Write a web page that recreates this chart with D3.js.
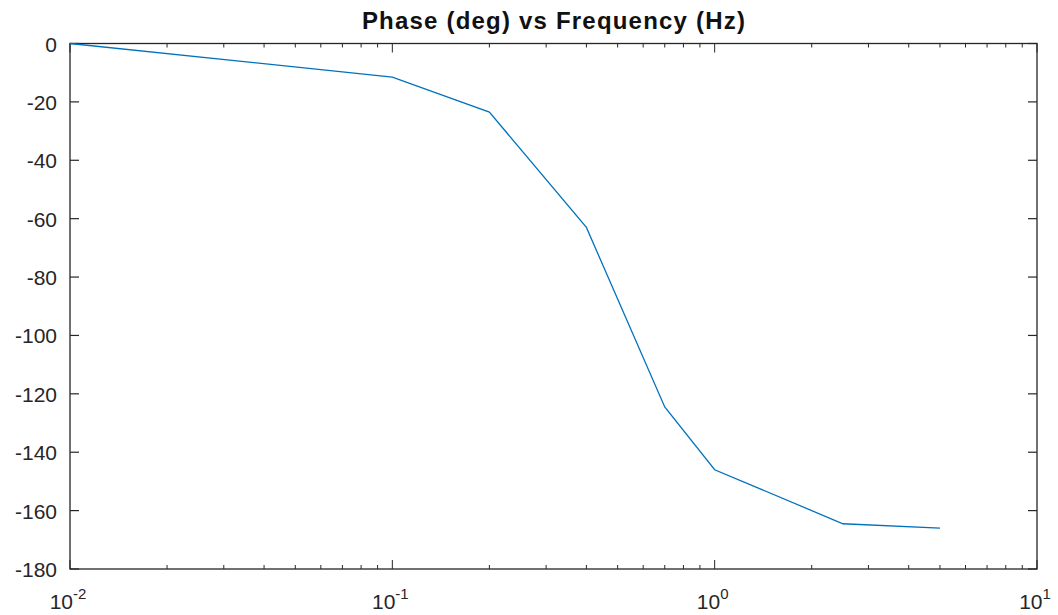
<!DOCTYPE html>
<html>
<head>
<meta charset="utf-8">
<script src="https://cdn.jsdelivr.net/npm/d3@7"></script>
<style>
  body { margin: 0; background: #fff; }
  text { font-family: "Liberation Sans", Arial, sans-serif; fill: #262626; }
</style>
</head>
<body>
<script>
var freq = [0.01, 0.1, 0.2, 0.4, 0.7, 1.0, 2.5, 5.0];
var phase = [0, -11.5, -23.5, -63, -124.5, -146, -164.5, -166];
var yTicks = [0, -20, -40, -60, -80, -100, -120, -140, -160, -180];
var xDecades = [-2, -1, 0, 1];
var title = 'Phase (deg) vs Frequency (Hz)';

var W = 1058, H = 615;
var m = {left: 70, top: 43.5, right: 1037, bottom: 569};

var svg = d3.select('body').append('svg').attr('width', W).attr('height', H);

var x = d3.scaleLog().domain([0.01, 10]).range([m.left, m.right]);
var y = d3.scaleLinear().domain([-180, 0]).range([m.bottom, m.top]);

// minor ticks 2..9 each decade
var minor = [];
for (var d = -2; d < 1; d++) {
    for (var k = 2; k <= 9; k++) minor.push(k * Math.pow(10, d));
}

var g = svg.append('g');

g.append('rect')
    .attr('x', m.left).attr('y', m.top)
    .attr('width', m.right - m.left).attr('height', m.bottom - m.top)
    .attr('fill', 'none').attr('stroke', '#262626').attr('stroke-width', 1.3);

function drawX(vals, len) {
    vals.forEach(function(v) {
        var px = x(v);
        g.append('line').attr('x1', px).attr('x2', px).attr('y1', m.bottom).attr('y2', m.bottom - len)
            .attr('stroke', '#262626').attr('stroke-width', 1);
        g.append('line').attr('x1', px).attr('x2', px).attr('y1', m.top).attr('y2', m.top + len)
            .attr('stroke', '#262626').attr('stroke-width', 1);
    });
}
drawX(minor, 4);
drawX(xDecades.map(function(d){ return Math.pow(10, d); }), 9);

yTicks.forEach(function(v) {
    var py = y(v);
    g.append('line').attr('x1', m.left).attr('x2', m.left + 9).attr('y1', py).attr('y2', py)
        .attr('stroke', '#262626').attr('stroke-width', 1.2);
    g.append('line').attr('x1', m.right).attr('x2', m.right - 9).attr('y1', py).attr('y2', py)
        .attr('stroke', '#262626').attr('stroke-width', 1.2);
    g.append('text').attr('x', m.left - 13).attr('y', py + 8)
        .attr('text-anchor', 'end').attr('font-size', 21).text(v);
});

xDecades.forEach(function(d) {
    var t = g.append('text').attr('x', x(Math.pow(10, d)) - 2).attr('y', 609)
        .attr('text-anchor', 'middle').attr('font-size', 21);
    t.append('tspan').text('10');
    t.append('tspan').attr('dy', -10).attr('font-size', 15).text(d);
});

var line = d3.line()
    .x(function(d, i){ return x(freq[i]); })
    .y(function(d){ return y(d); });

g.append('path').datum(phase)
    .attr('d', line)
    .attr('fill', 'none')
    .attr('stroke', '#0072BD')
    .attr('stroke-width', 1.3);

svg.append('text').attr('x', 554).attr('y', 29)
    .attr('text-anchor', 'middle').attr('font-size', 24).attr('font-weight', 'bold')
    .attr('letter-spacing', 1.2)
    .style('fill', '#111').text(title);
</script>
</body>
</html>
